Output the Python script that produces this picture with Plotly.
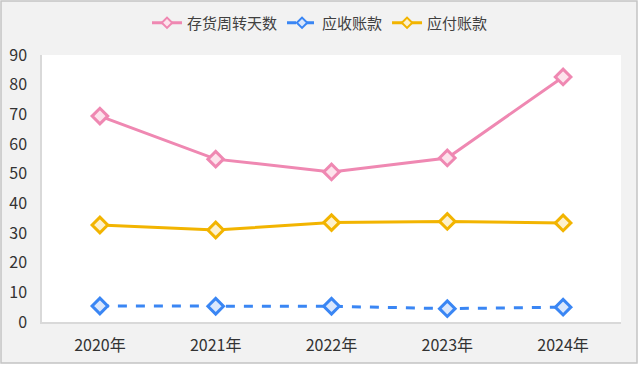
import plotly.graph_objects as go

years = ["2020年", "2021年", "2022年", "2023年", "2024年"]
inventory_days = [69.4, 54.9, 50.6, 55.3, 82.6]
receivables = [5.4, 5.3, 5.3, 4.5, 5.0]
payables = [32.7, 31.0, 33.5, 33.9, 33.4]

series = [
    ("存货周转天数", inventory_days, "#ef88b2", "#fde3ec", "solid"),
    ("应收账款", receivables, "#3a86f4", "#dae7fc", "dash"),
    ("应付账款", payables, "#f2b400", "#fdf1cd", "solid"),
]

fig = go.Figure()
for name, vals, color, fill, dash in series:
    fig.add_trace(go.Scatter(
        x=years, y=vals, name=name, mode="lines+markers",
        showlegend=False, legendgroup=name,
        line=dict(color=color, width=3, dash=dash),
        marker=dict(symbol="diamond", size=12, color=fill,
                    line=dict(color=color, width=3)),
    ))
# legend entries with a smaller diamond
for name, vals, color, fill, dash in series:
    fig.add_trace(go.Scatter(
        x=[None], y=[None], name=name, mode="lines+markers",
        legendgroup=name,
        line=dict(color=color, width=3, dash=dash),
        marker=dict(symbol="diamond", size=8, color=fill,
                    line=dict(color=color, width=2)),
    ))

# plot area in pixels: x 42..621, y 55..322 ; panel 1..637 x 1..363
pw, ph = 579, 267
panel = dict(x0=(1 - 42) / pw, x1=(637 - 42) / pw,
             y0=(322 - 363) / ph, y1=(322 - 1) / ph)

font_family = "Noto Sans CJK SC, Microsoft YaHei, sans-serif"
fig.update_layout(
    width=640, height=375,
    paper_bgcolor="#ffffff", plot_bgcolor="#ffffff",
    margin=dict(l=42, r=19, t=55, b=53, autoexpand=False),
    font=dict(family=font_family, size=16, color="#333333"),
    showlegend=True,
    legend=dict(orientation="h", x=(320 - 42) / pw, xanchor="center",
                y=1 - 23 / 375, yanchor="middle", yref="container",
                font=dict(size=15, color="#404040"),
                itemwidth=30, tracegroupgap=0, bgcolor="rgba(0,0,0,0)"),
    xaxis=dict(type="category", range=[-0.5, 4.5], showgrid=False,
               showline=True, linecolor="#d9d9d9", linewidth=1.5,
               ticks="", ticklabelstandoff=8,
               tickfont=dict(size=16, color="#333333")),
    yaxis=dict(range=[0, 90], dtick=10, showgrid=False, showline=True,
               linecolor="#d9d9d9", linewidth=1.5, zeroline=False,
               ticks="", ticklabelstandoff=10,
               tickfont=dict(size=16, color="#333333")),
    shapes=[
        dict(type="rect", xref="paper", yref="paper", layer="below",
             fillcolor="#f2f2f2", line=dict(color="#c4c4c4", width=1.5),
             **panel),
        dict(type="rect", xref="paper", yref="paper", layer="below",
             x0=0, x1=1, y0=0, y1=1, fillcolor="#ffffff",
             line=dict(width=0)),
    ],
)
fig.write_html("out.html")
